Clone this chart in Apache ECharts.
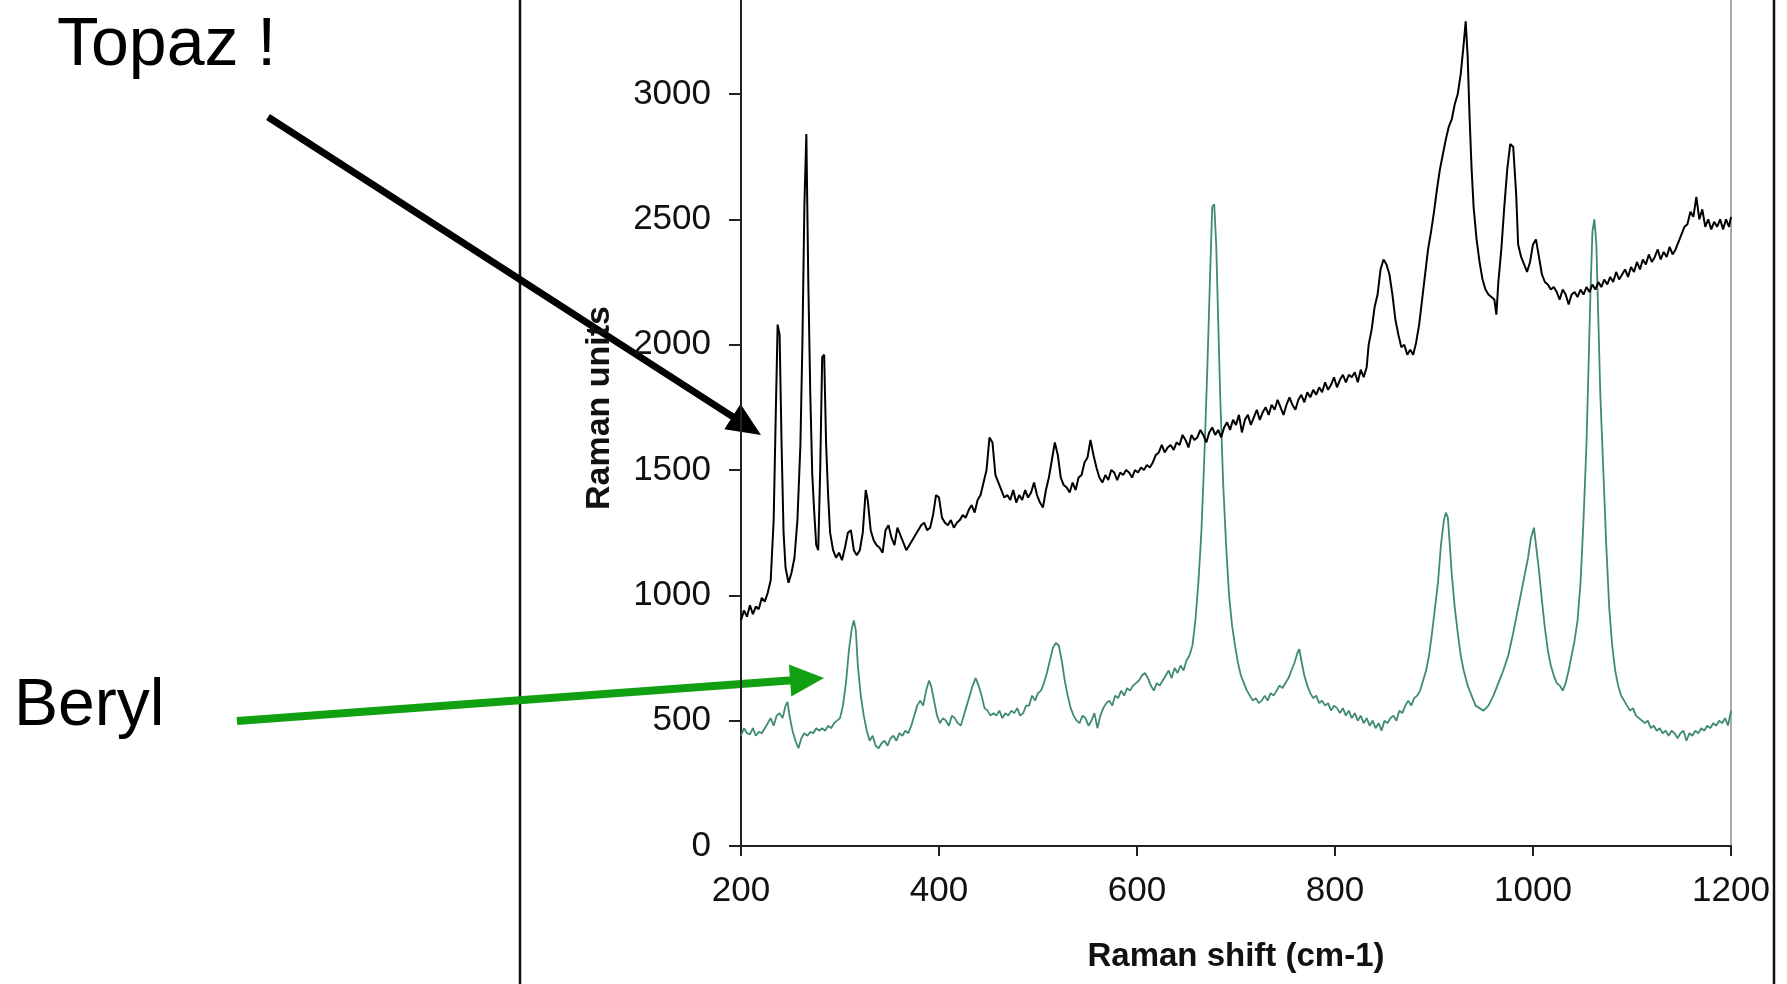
<!DOCTYPE html>
<html lang="en">
<head>
<meta charset="utf-8">
<title>Raman spectra - Topaz / Beryl</title>
<script src="https://cdn.jsdelivr.net/npm/echarts@6/dist/echarts.min.js"></script>
<style>
html, body { margin: 0; padding: 0; background: #fff; }
#main { width: 1787px; height: 984px; }
</style>
</head>
<body>
<div id="main"></div>
<script>
// Raman shift (cm-1) and Raman units
var topazShift = [
    200, 203, 206, 209, 212, 215, 218, 221, 224, 227,
    230, 233, 235, 237, 239, 241, 243, 245, 248, 251,
    254, 257, 260, 262, 264, 266, 268, 270, 272, 274,
    276, 278, 280, 282, 284, 286, 288, 290, 293, 296,
    299, 302, 305, 308, 311, 314, 317, 320, 323, 326,
    328, 331, 334, 337, 340, 343, 346, 349, 352, 355,
    358, 361, 364, 367, 370, 373, 376, 379, 382, 385,
    388, 391, 394, 397, 400, 403, 406, 409, 412, 415,
    418, 421, 424, 427, 430, 433, 436, 439, 442, 445,
    448, 451, 454, 457, 460, 463, 466, 469, 472, 475,
    478, 481, 484, 487, 490, 493, 496, 499, 502, 505,
    508, 511, 514, 517, 520, 523, 526, 529, 532, 535,
    538, 541, 544, 547, 550, 553, 556, 559, 562, 565,
    568, 571, 574, 577, 580, 583, 586, 589, 592, 595,
    598, 601, 604, 607, 610, 613, 616, 619, 622, 625,
    628, 631, 634, 637, 640, 643, 646, 649, 652, 655,
    658, 661, 664, 667, 670, 673, 676, 679, 682, 685,
    688, 691, 694, 697, 700, 703, 706, 709, 712, 715,
    718, 721, 724, 727, 730, 733, 736, 739, 742, 745,
    748, 751, 754, 757, 760, 763, 766, 769, 772, 775,
    778, 781, 784, 787, 790, 793, 796, 799, 802, 805,
    808, 811, 814, 817, 820, 823, 826, 829, 832, 834,
    837, 840, 843, 846, 849, 852, 855, 858, 861, 864,
    867, 870, 873, 876, 879, 882, 885, 888, 891, 894,
    897, 900, 903, 906, 909, 912, 915, 918, 921, 924,
    927, 930, 932, 934, 936, 938, 940, 943, 946, 949,
    952, 955, 958, 961, 963, 965, 968, 971, 974, 977,
    980, 983, 985, 988, 991, 994, 997, 1000, 1003, 1006,
    1009, 1012, 1015, 1018, 1021, 1024, 1027, 1030, 1033, 1036,
    1039, 1042, 1045, 1048, 1051, 1054, 1057, 1060, 1063, 1066,
    1069, 1072, 1075, 1078, 1081, 1084, 1087, 1090, 1093, 1096,
    1099, 1102, 1105, 1108, 1111, 1114, 1117, 1120, 1123, 1126,
    1129, 1132, 1135, 1138, 1141, 1144, 1147, 1150, 1153, 1156,
    1159, 1162, 1165, 1168, 1171, 1174, 1177, 1180, 1183, 1186,
    1189, 1192, 1195, 1198, 1200
];
var topazUnits = [
    900, 940, 915, 960, 925, 955, 945, 990, 975, 1010,
    1060, 1300, 1700, 2080, 2040, 1600, 1250, 1110, 1050, 1090,
    1150, 1300, 1600, 2000, 2550, 2840, 2250, 1800, 1480, 1330,
    1200, 1180, 1500, 1950, 1960, 1600, 1400, 1250, 1180, 1150,
    1170, 1140, 1190, 1250, 1260, 1180, 1160, 1180, 1250, 1420,
    1380, 1260, 1220, 1200, 1190, 1170, 1260, 1280, 1230, 1200,
    1270, 1240, 1210, 1180, 1200, 1220, 1240, 1260, 1280, 1290,
    1260, 1270, 1320, 1400, 1390, 1310, 1290, 1280, 1300, 1270,
    1290, 1300, 1320, 1310, 1340, 1360, 1330, 1380, 1400, 1450,
    1500, 1630, 1610, 1480, 1450, 1420, 1390, 1400, 1380, 1420,
    1370, 1400, 1380, 1420, 1390, 1410, 1450, 1400, 1370, 1350,
    1420, 1470, 1540, 1610, 1560, 1470, 1440, 1430, 1410, 1450,
    1420, 1470, 1480, 1530, 1550, 1620, 1560, 1510, 1470, 1450,
    1480, 1460, 1500, 1490, 1460, 1490, 1480, 1500, 1490, 1470,
    1500, 1490, 1510, 1500, 1520, 1510, 1530, 1560, 1570, 1600,
    1570, 1590, 1600, 1580, 1610, 1600, 1640, 1620, 1590, 1640,
    1620, 1630, 1660, 1640, 1610, 1650, 1670, 1640, 1660, 1630,
    1670, 1690, 1660, 1700, 1680, 1720, 1650, 1700, 1720, 1680,
    1710, 1740, 1700, 1730, 1750, 1720, 1760, 1740, 1780, 1750,
    1720, 1760, 1790, 1760, 1740, 1780, 1800, 1770, 1810, 1790,
    1820, 1800, 1830, 1810, 1850, 1820, 1840, 1870, 1830, 1860,
    1880, 1850, 1880, 1870, 1890, 1850, 1900, 1870, 1910, 2000,
    2060, 2150, 2200, 2300, 2340, 2320, 2280, 2200, 2100, 2040,
    1990, 2000, 1960, 1980, 1960, 2010, 2080, 2180, 2280, 2380,
    2450, 2530, 2620, 2700, 2760, 2820, 2870, 2900, 2960, 3000,
    3080, 3200, 3290, 3150, 2900, 2700, 2550, 2420, 2330, 2260,
    2220, 2200, 2190, 2180, 2120, 2250, 2380, 2550, 2700, 2800,
    2790, 2600, 2400, 2350, 2320, 2290, 2330, 2400, 2420, 2350,
    2280, 2250, 2240, 2220, 2230, 2210, 2180, 2220, 2200, 2160,
    2200, 2210, 2190, 2220, 2200, 2230, 2210, 2240, 2220, 2250,
    2230, 2260, 2240, 2270, 2250, 2290, 2260, 2280, 2300, 2270,
    2310, 2290, 2330, 2300, 2340, 2320, 2360, 2330, 2350, 2380,
    2340, 2370, 2350, 2390, 2360, 2380, 2410, 2440, 2470, 2480,
    2530, 2510, 2590, 2500, 2540, 2470, 2500, 2460, 2490, 2470,
    2500, 2460, 2500, 2470, 2510
];

var berylShift = [
    200, 203, 206, 209, 212, 215, 218, 221, 224, 227,
    230, 233, 236, 239, 242, 245, 247, 249, 252, 255,
    258, 261, 264, 267, 270, 273, 276, 279, 282, 285,
    288, 291, 294, 297, 300, 303, 306, 309, 312, 314,
    316, 318, 321, 324, 327, 330, 333, 336, 339, 342,
    345, 348, 351, 354, 357, 360, 363, 366, 369, 372,
    375, 378, 381, 384, 387, 390, 392, 395, 398, 401,
    404, 407, 410, 413, 416, 419, 422, 425, 428, 431,
    434, 437, 440, 443, 446, 449, 452, 455, 458, 461,
    464, 467, 470, 473, 476, 479, 482, 485, 488, 491,
    494, 497, 500, 503, 506, 509, 512, 515, 518, 521,
    524, 527, 530, 533, 536, 539, 542, 545, 548, 551,
    554, 557, 560, 563, 566, 569, 572, 575, 578, 581,
    584, 587, 590, 593, 596, 599, 602, 605, 608, 611,
    614, 617, 620, 623, 626, 629, 632, 635, 638, 641,
    644, 647, 650, 653, 656, 659, 662, 665, 668, 671,
    674, 676, 678, 680, 682, 684, 687, 690, 693, 696,
    699, 702, 705, 708, 711, 714, 717, 720, 723, 726,
    729, 732, 735, 738, 741, 744, 747, 750, 753, 756,
    759, 762, 764, 766, 769, 772, 775, 778, 781, 784,
    787, 790, 793, 796, 799, 802, 805, 808, 811, 814,
    817, 820, 823, 826, 829, 832, 835, 838, 841, 844,
    847, 850, 853, 856, 859, 862, 865, 868, 871, 874,
    877, 880, 883, 886, 889, 892, 895, 898, 901, 904,
    907, 910, 912, 914, 916, 918, 921, 924, 927, 930,
    934, 938, 942, 946, 950, 955, 960, 965, 970, 975,
    980, 985, 990, 995, 998, 1001, 1003, 1006, 1009, 1012,
    1015, 1018, 1021, 1024, 1027, 1030, 1033, 1036, 1039, 1042,
    1045, 1048, 1051, 1054, 1056, 1058, 1060, 1062, 1064, 1066,
    1068, 1071, 1074, 1077, 1080, 1083, 1086, 1089, 1092, 1095,
    1098, 1101, 1104, 1107, 1110, 1113, 1116, 1119, 1122, 1125,
    1128, 1131, 1134, 1137, 1140, 1143, 1146, 1149, 1152, 1155,
    1158, 1161, 1164, 1167, 1170, 1173, 1176, 1179, 1182, 1185,
    1188, 1191, 1194, 1197, 1200
];
var berylUnits = [
    440, 470, 450, 445, 470, 440, 455, 450, 470, 490,
    510, 480, 520, 530, 510, 560, 575, 520, 460, 420,
    390, 430, 450, 440, 455, 450, 470, 460, 470, 460,
    480, 470, 490, 500, 510, 560, 650, 780, 870, 900,
    860, 720, 600, 520, 460, 420, 440, 400, 390, 410,
    420, 400, 430, 440, 420, 450, 440, 460, 450, 480,
    520, 560, 580, 560, 620, 660, 640, 580, 520, 490,
    510, 500, 480, 520, 510, 490, 480, 520, 560, 600,
    640, 670, 640, 600, 550, 540, 520, 530, 520, 540,
    510, 530, 520, 540, 530, 550, 520, 530, 560, 560,
    600, 580, 610, 620, 650, 690, 740, 790, 810, 800,
    740, 660, 600, 550, 520, 500, 490, 520, 510, 480,
    500, 530, 470, 520, 550, 570, 580, 560, 600, 590,
    620, 600, 630, 620, 640, 650, 660, 680, 690, 670,
    640, 620, 650, 640, 660, 680, 700, 670, 710, 690,
    720, 700, 740, 760, 800, 900, 1050, 1250, 1550, 1900,
    2300, 2550, 2560, 2400, 2100, 1800, 1450, 1200, 1000, 880,
    800, 730, 680, 650, 620, 600, 580, 590, 570, 580,
    600, 580, 610, 600, 620, 640, 630, 650, 670, 700,
    730, 770, 785, 740, 680, 640, 610, 590, 600, 570,
    580, 560, 570, 540, 560, 550, 530, 550, 520, 540,
    510, 530, 500, 520, 490, 510, 480, 500, 470, 490,
    460, 500, 490, 510, 520, 500, 540, 530, 560, 580,
    560, 590, 600, 620, 660, 700, 760, 850, 950, 1050,
    1200, 1300, 1330, 1310, 1200, 1080, 950, 850, 760, 700,
    640, 600, 560, 550, 540, 560, 600, 650, 700, 760,
    850, 950, 1050, 1150, 1230, 1270, 1200, 1100, 980, 870,
    780, 720, 680, 650, 640, 620, 650, 700, 760, 820,
    900, 1050, 1300, 1600, 1900, 2200, 2450, 2500, 2400, 2100,
    1800, 1500, 1200, 950, 800, 700, 640, 600, 580, 560,
    540, 550, 520, 510, 500, 490, 500, 470, 480, 460,
    470, 450, 460, 440, 460, 450, 430, 450, 460, 420,
    450, 440, 460, 450, 470, 460, 480, 470, 490, 480,
    500, 490, 510, 480, 540
];

// 坐标轴刻度
var xTickValues = [200, 400, 600, 800, 1000, 1200];
var yTickValues = [0, 500, 1000, 1500, 2000, 2500, 3000];
var yTop = 3375;   // 图片上边缘处的数值 (图被裁掉了上部)

function zip(xs, ys) {
    var out = [];
    for (var i = 0; i < xs.length; i++) out.push([xs[i], ys[i]]);
    return out;
}

// 箭头: 线段 + 三角形箭头
function arrow(x1, y1, x2, y2, color, width, headLen, headHalf) {
    var dx = x2 - x1, dy = y2 - y1;
    var len = Math.sqrt(dx * dx + dy * dy);
    var ux = dx / len, uy = dy / len;
    var bx = x2 - ux * headLen, by = y2 - uy * headLen;
    return [{
        type: 'line',
        shape: { x1: x1, y1: y1, x2: bx + ux * 2, y2: by + uy * 2 },
        style: { stroke: color, lineWidth: width },
        silent: true
    }, {
        type: 'polygon',
        shape: { points: [[x2, y2], [bx - uy * headHalf, by + ux * headHalf], [bx + uy * headHalf, by - ux * headHalf]] },
        style: { fill: color },
        silent: true
    }];
}

var axisFont = '"Liberation Sans", Arial, sans-serif';
var noteFont = '"Liberation Sans", "DejaVu Sans", sans-serif';

var chart = echarts.init(document.getElementById('main'), null, { renderer: 'canvas' });

var graphics = [
    // 外框
    { type: 'line', shape: { x1: 520, y1: 0, x2: 520, y2: 984 }, style: { stroke: '#111', lineWidth: 2.5 }, silent: true },
    { type: 'line', shape: { x1: 1774, y1: 0, x2: 1774, y2: 984 }, style: { stroke: '#111', lineWidth: 2.5 }, silent: true },
    { type: 'text', left: 57, top: 12, style: { text: 'Topaz !', fill: '#000', font: '68px ' + noteFont } },
    { type: 'text', left: 14, top: 674, style: { text: 'Beryl', fill: '#000', font: '66px ' + noteFont } }
].concat(arrow(268, 117, 761, 435, '#000', 7, 34, 15))
 .concat(arrow(237, 721, 824, 678, '#11a011', 8, 34, 16));

chart.setOption({
    backgroundColor: '#fff',
    animation: false,
    grid: {
        left: 741, right: 56, top: 0, bottom: 138,
        show: false
    },
    xAxis: {
        type: 'value',
        min: 200, max: 1200, interval: 200,
        name: 'Raman shift (cm-1)',
        nameLocation: 'middle', nameGap: 94,
        nameTextStyle: { fontFamily: axisFont, fontWeight: 'bold', fontSize: 33, color: '#111' },
        axisLine: { onZero: false, lineStyle: { color: '#222', width: 2 } },
        axisTick: { show: true, inside: false, length: 10, customValues: xTickValues, lineStyle: { color: '#222', width: 2 } },
        axisLabel: { margin: 28, customValues: xTickValues, fontFamily: axisFont, fontSize: 35, color: '#111',
            formatter: function (v) { return String(v); } },
        splitLine: { show: false }
    },
    yAxis: [{
        type: 'value',
        min: 0, max: yTop, interval: 500,
        name: 'Raman units',
        nameLocation: 'middle', nameGap: 124, nameRotate: 90,
        nameTextStyle: { fontFamily: axisFont, fontWeight: 'bold', fontSize: 34, color: '#111', padding: [0, 0, 0, 30] },
        axisLine: { show: true, onZero: false, lineStyle: { color: '#222', width: 2 } },
        axisTick: { show: true, inside: false, length: 12, customValues: yTickValues, lineStyle: { color: '#222', width: 2 } },
        axisLabel: { margin: 30, customValues: yTickValues, fontFamily: axisFont, fontSize: 35, color: '#111',
            formatter: function (v) { return String(v); } },
        splitLine: { show: false }
    }, {
        // 绘图区右边框
        type: 'value',
        position: 'right',
        min: 0, max: yTop,
        axisLine: { show: true, onZero: false, lineStyle: { color: '#8c8c8c', width: 1.5 } },
        axisTick: { show: false },
        axisLabel: { show: false },
        splitLine: { show: false }
    }],
    series: [{
        name: 'Topaz',
        type: 'line',
        data: zip(topazShift, topazUnits),
        showSymbol: false,
        lineStyle: { color: '#000', width: 2 },
        z: 3
    }, {
        name: 'Beryl',
        type: 'line',
        data: zip(berylShift, berylUnits),
        showSymbol: false,
        lineStyle: { color: '#3f8a76', width: 1.8 },
        z: 2
    }],
    graphic: graphics
});
</script>
</body>
</html>
